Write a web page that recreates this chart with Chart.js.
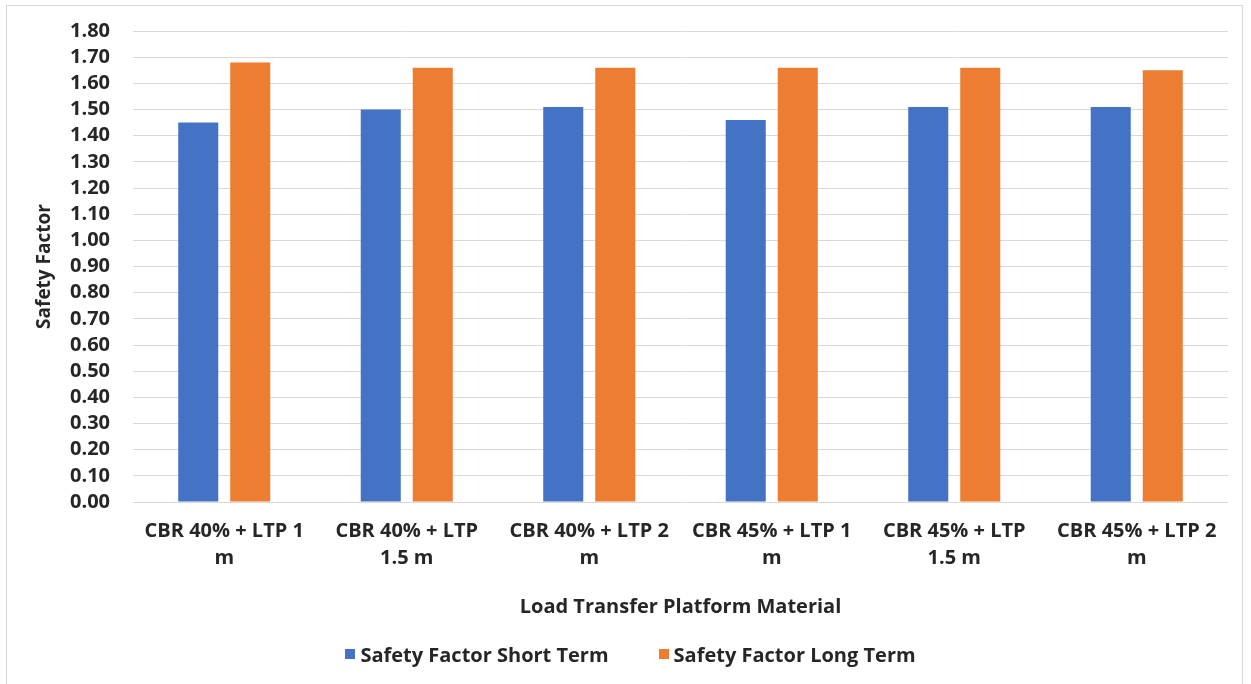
<!DOCTYPE html>
<html>
<head>
<meta charset="utf-8">
<script src="https://cdn.jsdelivr.net/npm/chart.js@4/dist/chart.umd.min.js"></script>
<style>
  html, body { margin: 0; padding: 0; background: #ffffff; }
  body { width: 1251px; height: 684px; position: relative; overflow: hidden; }
  #frame { position: absolute; left: 6px; top: 5px; width: 1237px; height: 700px; border: 1px solid #d9d9d9; box-sizing: border-box; }
  #wrap { position: absolute; left: 0; top: 0; width: 1251px; height: 684px; }
  #legend {
    position: absolute; left: 33px; top: 640px; width: 1195px; height: 28px;
    display: flex; justify-content: center; align-items: center; gap: 50px;
    font-family: 'Open Sans', 'Noto Sans', sans-serif; font-weight: bold; font-size: 20px;
    color: #262626; white-space: nowrap;
  }
  #legend .item { display: flex; align-items: center; }
  #legend .swatch { width: 10px; height: 10px; margin-right: 5px; }
</style>
</head>
<body>
<div id="frame"></div>
<div id="wrap"><canvas id="chart" width="1251" height="684"></canvas></div>
<div id="legend"></div>
<script>
// Platform configurations (x categories, each label split over two lines)
const categories = [
  ["CBR 40% + LTP 1", "m"],
  ["CBR 40% + LTP", "1.5 m"],
  ["CBR 40% + LTP 2", "m"],
  ["CBR 45% + LTP 1", "m"],
  ["CBR 45% + LTP", "1.5 m"],
  ["CBR 45% + LTP 2", "m"]
];

// Safety factors per configuration
const shortTerm = [1.45, 1.50, 1.51, 1.46, 1.51, 1.51];
const longTerm  = [1.68, 1.66, 1.66, 1.66, 1.66, 1.65];

const seriesNames = ["Safety Factor Short Term", "Safety Factor Long Term"];
const seriesColors = ["#4472C4", "#ED7D31"];

const fontFamily = "'Open Sans', 'Noto Sans', sans-serif";
const textColor = "#262626";

const chart = new Chart(document.getElementById("chart"), {
  type: "bar",
  data: {
    labels: categories,
    datasets: [
      { label: seriesNames[0], data: shortTerm, backgroundColor: seriesColors[0] },
      { label: seriesNames[1], data: longTerm, backgroundColor: seriesColors[1] }
    ]
  },
  options: {
    responsive: false,
    animation: false,
    events: [],
    layout: { padding: { left: 33, right: 23, top: 31, bottom: 50 } },
    datasets: { bar: { categoryPercentage: 0.57, barPercentage: 0.77 } },
    scales: {
      x: {
        grid: { display: false, drawTicks: false },
        border: { display: false },
        ticks: {
          color: textColor,
          padding: 16,
          maxRotation: 0,
          autoSkip: false,
          font: { family: fontFamily, size: 20, weight: "bold", lineHeight: 1.35 }
        },
        title: {
          display: true,
          text: "Load Transfer Platform Material",
          color: textColor,
          padding: { top: 7, bottom: 15 },
          font: { family: fontFamily, size: 20, weight: "bold", lineHeight: 1.2 }
        },
        afterFit: (scale) => { scale.paddingLeft = 0; scale.paddingRight = 0; }
      },
      y: {
        min: 0,
        max: 1.8,
        grid: { color: "#d9d9d9", lineWidth: 1, drawTicks: false },
        border: { display: false },
        ticks: {
          stepSize: 0.1,
          autoSkip: false,
          color: textColor,
          padding: 23,
          font: { family: fontFamily, size: 20, weight: "bold" },
          callback: (v) => Number(v).toFixed(2)
        },
        title: {
          display: true,
          text: "Safety Factor",
          color: textColor,
          padding: { top: 0, bottom: 12 },
          font: { family: fontFamily, size: 19, weight: "bold", lineHeight: 1.2 }
        },
        afterFit: (scale) => { scale.width = 100; scale.paddingTop = 0; }
      }
    },
    plugins: {
      legend: { display: false },
      tooltip: { enabled: false }
    }
  }
});

// Legend row built from the chart's own datasets
const legendEl = document.getElementById("legend");
chart.data.datasets.forEach((ds) => {
  const item = document.createElement("div");
  item.className = "item";
  const sw = document.createElement("span");
  sw.className = "swatch";
  sw.style.background = ds.backgroundColor;
  const txt = document.createElement("span");
  txt.textContent = ds.label;
  item.appendChild(sw);
  item.appendChild(txt);
  legendEl.appendChild(item);
});
</script>
</body>
</html>
